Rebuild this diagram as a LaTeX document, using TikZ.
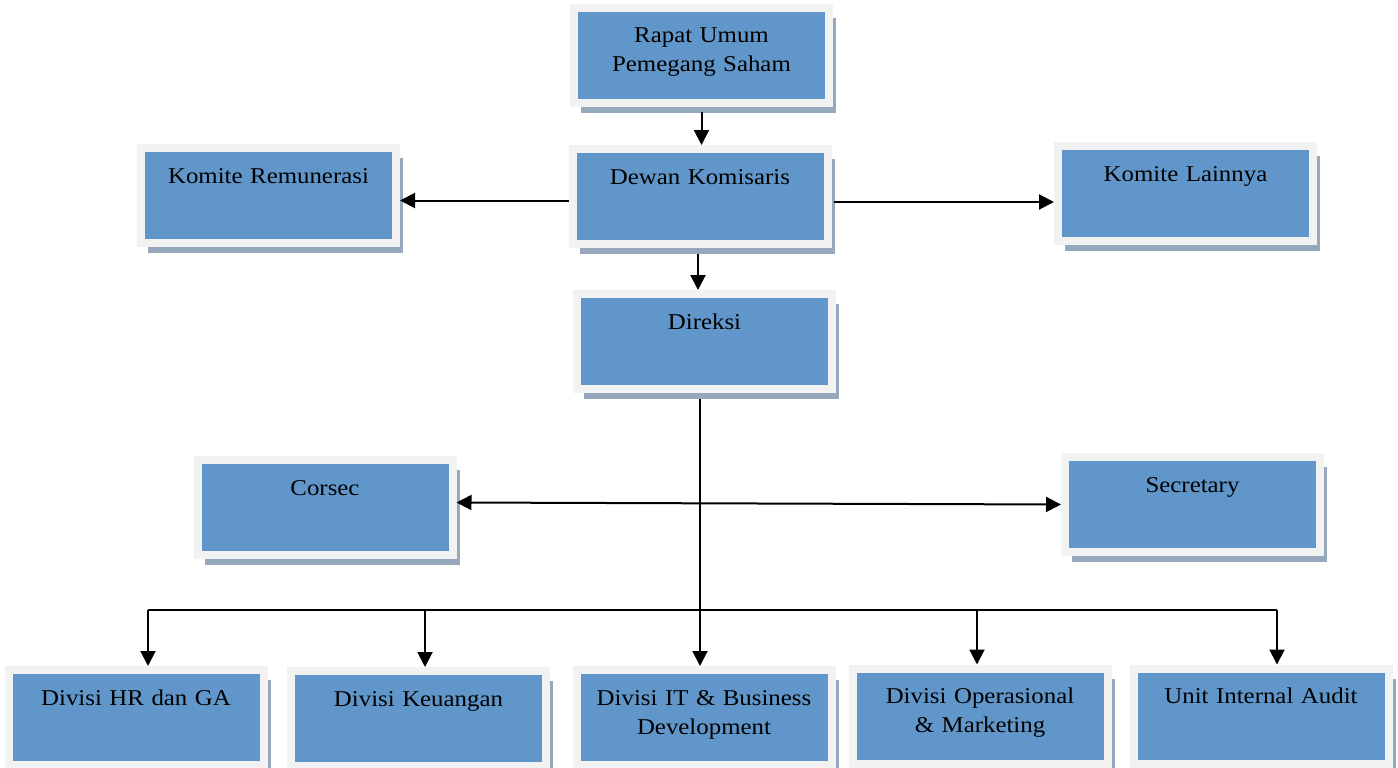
\documentclass[tikz,border=0pt]{standalone}
\usepackage{fontspec}
\setmainfont{Liberation Serif}[FakeStretch=1.1]
\usetikzlibrary{arrows.meta,shadows}
\definecolor{boxblue}{HTML}{6096C9}
\definecolor{boxframe}{HTML}{F2F2F2}
\definecolor{boxshadow}{HTML}{97A8BD}

\begin{document}
\begin{tikzpicture}[x=1pt,y=-1pt,
    unit/.style={draw=boxframe,line width=8pt,fill=boxblue,
      general shadow={fill=boxshadow,shadow xshift=7pt,shadow yshift=-10pt},
      minimum width=255pt,minimum height=95pt,inner xsep=8pt,inner ysep=0pt,
      text width=239pt,align=center,text height=35pt,text depth=60pt,
      font=\fontsize{22.6}{29}\selectfont},
    link/.style={line width=2pt},
    arr/.style={link,-{Triangle[length=15pt,width=15pt]}},
    arrs/.style={link,{Triangle[length=15pt,width=15pt]}-{Triangle[length=15pt,width=15pt]}}]
    \useasboundingbox (0,0) rectangle (1398,768);

    \node[unit] (rups) at (701.5,55.5) {Rapat Umum\\Pemegang Saham};
    \node[unit] (dewan) at (700,196.5) {Dewan Komisaris};
    \node[unit] (komrem) at (268.5,195.5) {Komite Remunerasi};
    \node[unit] (komlain) at (1185.5,193.5) {Komite Lainnya};
    \node[unit] (direksi) at (704.5,341.5) {Direksi};
    \node[unit] (corsec) at (325,507.5) {Corsec};
    \node[unit] (secretary) at (1192.5,504.5) {Secretary};
    \node[unit] (hr) at (136,717.5) {Divisi HR dan GA};
    \node[unit] (keu) at (418.5,718.5) {Divisi Keuangan};
    \node[unit] (it) at (704,717.5) {Divisi IT \& Business\\Development};
    \node[unit] (ops) at (980,716) {Divisi Operasional\\\& Marketing};
    \node[unit] (audit) at (1261,716) {Unit Internal Audit};

    \draw[arr,shorten <=5pt] (rups.south) -- (rups.south |- dewan.north);
    \draw[arr] ([yshift=-4pt]dewan.west) -- ([yshift=-4pt]dewan.west -| komrem.east);
    \draw[arr,shorten <=2pt] ([yshift=-5.5pt]dewan.east) -- ([yshift=-5.5pt]dewan.east -| komlain.west);
    \draw[arr,shorten <=6pt] ([xshift=-2pt]dewan.south) -- ([xshift=-2pt]dewan.south |- direksi.north);
    \draw[arr,shorten <=6pt] ([xshift=-4.5pt]direksi.south) -- ([xshift=-4.5pt]direksi.south |- it.north);
    \draw[arrs] ([yshift=5pt]corsec.east) -- (secretary.west);

    \coordinate (busL) at (148,610);
    \coordinate (busR) at (1277,610);
    \draw[link] (busL) -- (busR);
    \foreach \dx/\dn in {148/hr,425/keu,977/ops,1277/audit}
      \draw[arr] (\dx,610) -- (\dx,610 |- \dn.north);
\end{tikzpicture}
\end{document}
